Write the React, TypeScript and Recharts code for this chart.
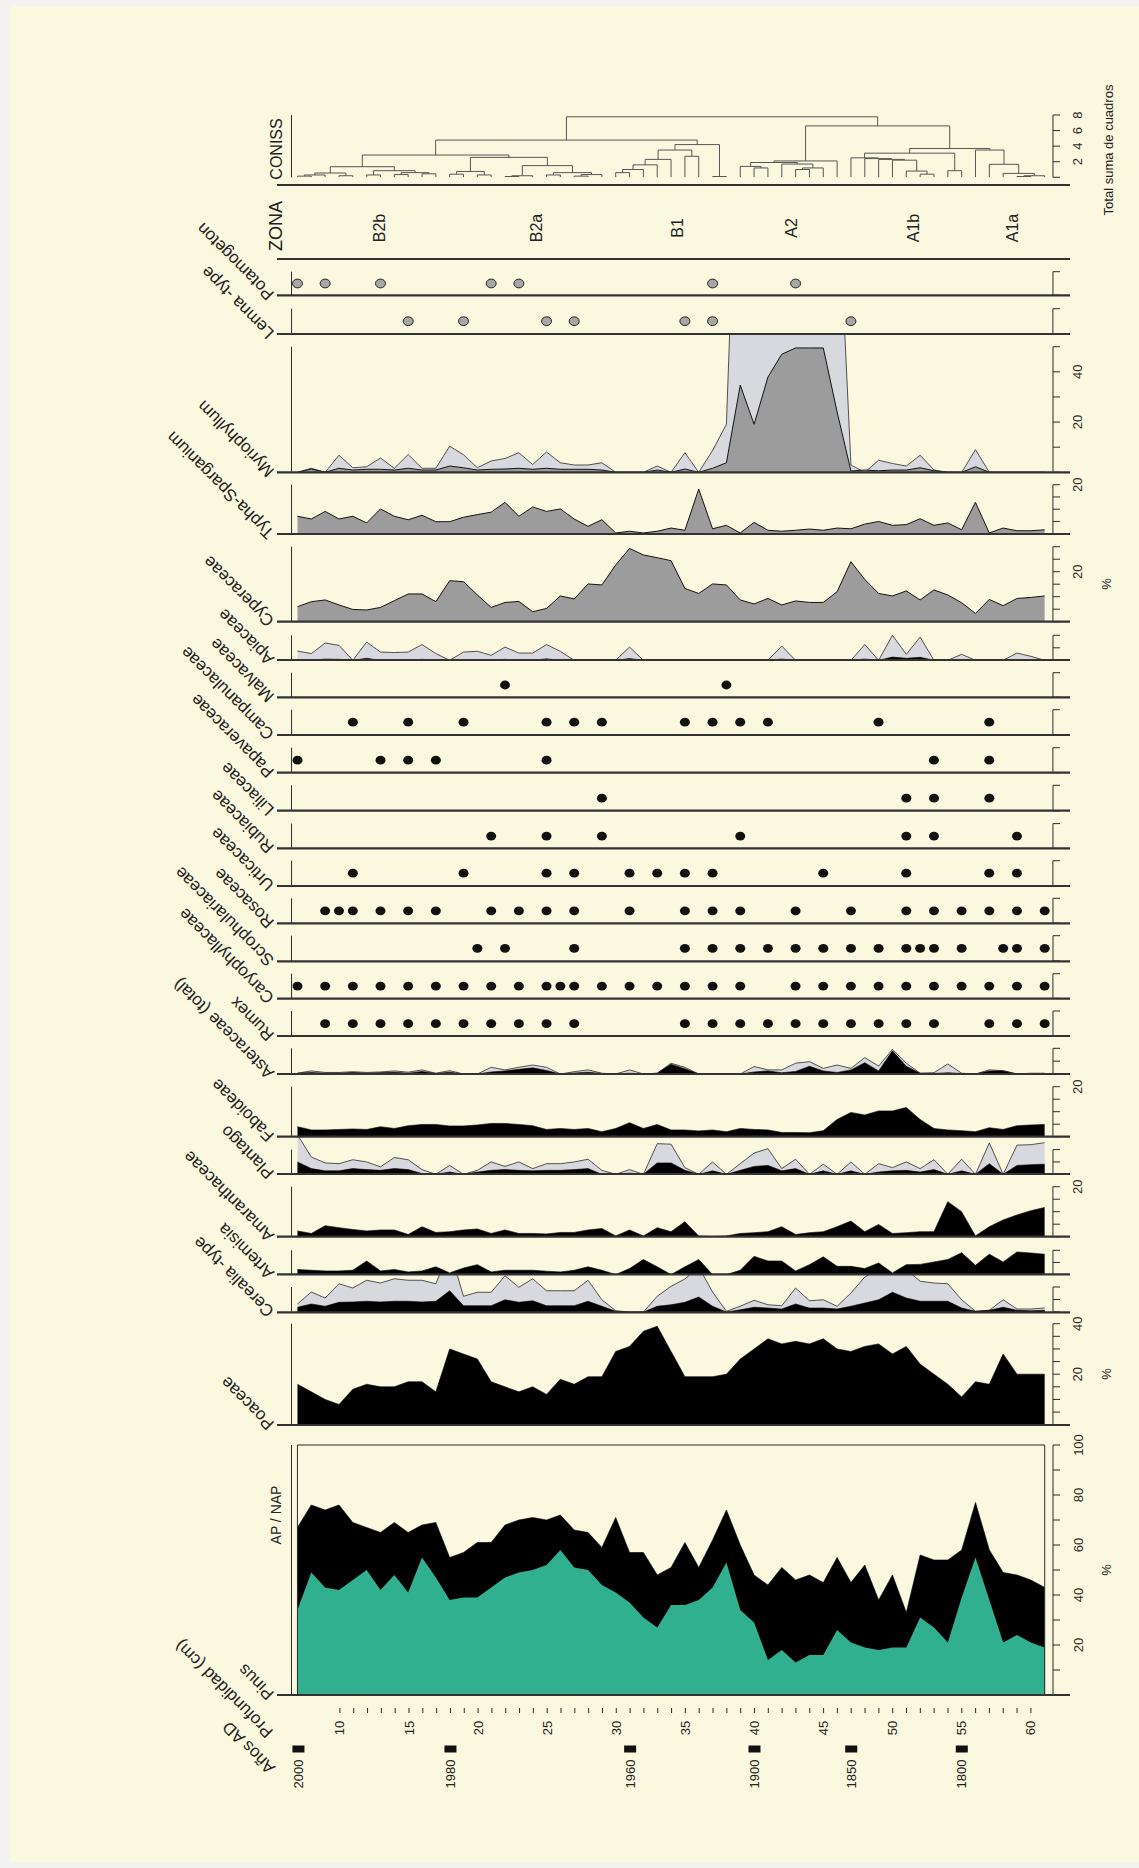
import React from 'react';
import { ComposedChart, Area, Line, Scatter, XAxis, YAxis, ReferenceLine, ReferenceArea } from 'recharts';

// depth of every sample (cm)
const depths = [
  7, 8, 9, 10, 11, 12, 13, 14, 15, 16, 17, 18, 19, 20, 21, 22, 23, 24, 25, 26, 27, 28, 29, 30, 31, 32, 33, 34,
  35, 36, 37, 38, 39, 40, 41, 42, 43, 44, 45, 46, 47, 48, 49, 50, 51, 52, 53, 54, 55, 56, 57, 58, 59, 60, 61,
];

// AP / NAP (%)
const apTotal = [
  67, 76, 74, 76, 69, 67, 65, 69, 65, 68, 69, 55, 57, 61, 61, 68, 70, 71, 70, 72, 66, 65, 59, 71, 57, 57, 48, 51,
  61, 51, 62, 74, 60, 48, 44, 51, 46, 48, 45, 55, 45, 52, 38, 48, 33, 56, 54, 54, 58, 77, 58, 49, 48, 46, 43,
];
const pinus = [
  34, 49, 43, 42, 46, 50, 42, 48, 41, 55, 47, 38, 39, 39, 43, 47, 49, 50, 52, 58, 51, 50, 44, 41, 37, 31, 27, 36,
  36, 38, 43, 53, 34, 29, 14, 18, 13, 16, 16, 26, 21, 19, 18, 19, 19, 31, 27, 21, 39, 55, 38, 21, 24, 21, 19,
];

// herbs (%)
const poaceae = [
  16, 13, 10, 8, 14, 16, 15, 15, 17, 17, 13, 30, 28, 26, 17, 15, 13, 15, 12, 18, 16, 19, 19, 29, 31, 37, 39, 29,
  19, 19, 19, 20, 26, 30, 34, 32, 33, 32, 34, 30, 29, 31, 32, 28, 31, 24, 20, 16, 11, 17, 16, 28, 20, 20, 20,
];
const cerealia = [
  1.9, 3.2, 2.3, 3.9, 4, 4.3, 4, 4.3, 4.3, 4, 4.3, 8.5, 2.5, 2.5, 2.5, 4.9, 3.9, 4.5, 2.5, 2.5, 2.5, 4.3, 2.3, 0.3,
  0, 0, 2.3, 2.9, 3.9, 6, 2.3, 0, 0.9, 1.9, 1.6, 1.2, 3.2, 1.6, 1.6, 1.2, 2.3, 3.6, 4.9, 7.9, 5.6, 4.3, 4.3, 4.3,
  1.6, 0.3, 0.7, 1.9, 0.7, 0.5, 0.7,
];
const cerealiaExag = [
  3.2, 8, 5.6, 11.3, 9.6, 12.7, 11.6, 13.3, 12.7, 12.7, 11.3, 25, 6.3, 7.9, 7.9, 14.5, 9.9, 13.3, 8.5, 8.5, 8.5,
  12.7, 4.9, 0.5, 0, 0, 6.3, 10.3, 13.2, 18, 8, 0.3, 2.3, 4.7, 2.9, 2.5, 9.6, 4.5, 4.9, 2.3, 7.6, 14, 17, 24, 17,
  12.3, 11.6, 11.3, 4.9, 0.3, 0.7, 4.9, 1.2, 1.2, 1.6,
];
const artemisia = [
  2.1, 1.8, 1.5, 1.5, 1.8, 5.6, 1.5, 2.1, 1.1, 1.5, 3.2, 0.7, 2.7, 4.1, 1.1, 1.8, 1.8, 1.8, 1.4, 1.1, 1.8, 3.2, 1.8,
  0, 2.5, 6.2, 3.2, 0, 3.2, 6.2, 0, 0, 1.8, 7.5, 5.6, 5.6, 1.5, 4.1, 7.3, 3.4, 3.4, 2.5, 4.8, 0.7, 4.1, 4.2, 5.2,
  6.2, 9, 3.8, 8.4, 5.2, 9.3, 8.9, 8.4,
];
const amaranthaceae = [
  2.3, 1.3, 4.4, 3.6, 2.9, 2.3, 2.7, 2.7, 0.9, 4, 1.7, 2, 2.7, 3.1, 1.3, 2.7, 1.3, 1.3, 1.1, 1.7, 1.7, 2.7, 3.3, 0.3,
  2.7, 0.3, 3.6, 2, 6, 0.3, 0, 0.3, 1.3, 1.6, 2, 4, 0.9, 1.6, 2, 4, 6.3, 2, 4.9, 1.3, 1.6, 2, 2, 14, 10, 0.3, 4,
  6.7, 8.7, 10.4, 11.7,
];
const plantago = [
  5, 2.3, 1.4, 1.4, 2.3, 1.9, 1.6, 2.3, 1.9, 0.3, 0, 0.9, 0, 0.9, 1.6, 1.9, 1.6, 1.4, 1.6, 1.6, 1.9, 2.3, 0, 0, 0.5,
  0, 4.6, 4.6, 1.6, 0, 1.4, 0, 1.6, 3.2, 3.6, 1.4, 2.3, 0, 1.4, 0, 1.4, 0, 0.9, 1.4, 1.6, 0.9, 1.9, 0, 1.4, 0, 4.3,
  0, 3.6, 3.9, 4.1,
];
const plantagoExag = [
  16, 7, 4.6, 4.3, 5.9, 5, 3, 6.8, 5.9, 1.9, 0, 3.6, 0, 1.6, 5, 3.2, 5, 2.3, 4.3, 4.3, 5, 6.1, 1.6, 0, 1.9, 0, 12.4,
  12.2, 2.7, 0, 5, 0, 4.3, 8.6, 10.4, 2.3, 6.1, 0, 4.1, 0, 5, 0, 4.3, 2.7, 5, 2.3, 5.9, 0, 6.1, 0, 12.7, 0, 11.8, 12,
  12.8,
];
const faboideae = [
  4, 2.7, 2.7, 2.9, 3.1, 2.9, 4, 3.3, 4.4, 4.9, 4.9, 4.3, 4.3, 4.7, 5.3, 5.3, 4.9, 4.4, 2.9, 3.3, 2.9, 3.3, 2, 3.3,
  5.6, 3.3, 4.9, 2.7, 2.7, 2.3, 2.7, 2, 3.3, 2.9, 2.7, 1.7, 1.7, 1.6, 2.4, 6.9, 9.7, 8.7, 10.3, 10.3, 11.7, 6.9, 3.3,
  2.7, 2.4, 2, 3.6, 2.9, 4.4, 4.7, 4.9,
];
const asteraceae = [
  0.3, 0.6, 0.3, 0.3, 0.6, 0.3, 0.5, 0.7, 0.3, 1, 0.2, 0.7, 0, 0, 0.8, 1.2, 1.8, 2.4, 1.4, 0, 0.4, 0.7, 0.2, 0, 0.3,
  0, 0.3, 3.8, 2, 0, 0, 0, 0, 0.8, 1.2, 0.5, 1, 3, 1.2, 0.6, 1.6, 4.4, 1.2, 9, 3, 0.3, 0.2, 0.5, 0.2, 0, 1.2, 1.2, 0,
  0.2, 0.2,
];
const asteraceaeTotal = [
  0.3, 1.2, 0.6, 0.6, 0.9, 0.6, 0.8, 1.2, 0.7, 1.6, 0.3, 1.3, 0, 0, 2.6, 1.6, 2.6, 3.5, 2.6, 0, 0.9, 1.6, 0.3, 0, 1.6,
  0, 0.3, 4.2, 2.6, 0, 0, 0, 0, 2.9, 1.6, 1.6, 4.2, 4.8, 2.2, 3.5, 2.2, 6.4, 3.1, 9.6, 4.2, 0.3, 0.5, 3.9, 0.3, 0,
  1.6, 1.3, 0, 0.3, 0.3,
];
const apiaceae = [
  0, 0, 0.5, 0.4, 0, 0.8, 0, 0, 0, 0.4, 0, 0, 0, 0, 0, 0.4, 0, 0, 0.6, 0, 0, 0, 0, 0, 0.7, 0, 0, 0, 0, 0, 0, 0, 0,
  0, 0, 0.5, 0, 0, 0, 0, 0, 0.5, 0, 1.3, 0.8, 1.2, 0, 0, 0, 0, 0, 0, 0, 0, 0,
];
const apiaceaeTotal = [
  3.7, 2.7, 6.9, 6, 0, 7.3, 3.3, 3.1, 3.3, 6.3, 2.7, 0, 3.3, 3.6, 2, 5.3, 2.9, 2.9, 6.3, 3.6, 0, 0, 0, 0, 5.3, 0, 0,
  0, 0, 0, 0, 0, 0, 0, 0, 5.7, 0, 0, 0, 0, 0, 6.3, 0, 10, 2.4, 9.3, 0, 0, 2.4, 0, 0, 0, 2.9, 1.6, 0,
];

// wetland and aquatic taxa (%)
const cyperaceae = [
  6, 8, 8.7, 6.7, 4.9, 4.7, 5.7, 8.4, 11.1, 11.1, 8, 16.4, 16, 10.7, 5.7, 7.7, 8.1, 4, 5.3, 10.3, 9.1, 15.1, 14.7,
  22.7, 29.3, 26.7, 25.6, 24.4, 13.3, 11.3, 15.1, 14.7, 8.7, 7.1, 9.3, 6.7, 8.3, 7.7, 7.7, 12, 24, 16.9, 11.3, 10.3,
  12.3, 8.7, 12.7, 10.7, 7.6, 3.3, 8.9, 6.4, 9.3, 9.7, 10.3,
];
const typha = [
  7.1, 6, 9.1, 6, 7.1, 4.4, 10.1, 7.1, 5.7, 7.5, 4.9, 4.9, 6.7, 7.8, 8.8, 12.8, 7.1, 10.9, 9.1, 10.1, 6, 3, 5.7, 0.3,
  1, 0.3, 1, 2.3, 1.4, 18.2, 2, 3.4, 0.3, 4.6, 1.4, 1, 1.4, 1.9, 1.4, 2.3, 2, 3.9, 5, 3.4, 3.7, 6.1, 3.4, 4.4, 1.6,
  12.8, 0.3, 2.3, 1.2, 1.2, 1.6,
];
const myriophyllum = [
  0, 1.3, 0, 1.6, 0.9, 1.2, 1.2, 0.9, 1.6, 0.9, 0.9, 2.5, 1.8, 0.9, 1.2, 1.3, 1.6, 1.2, 1.6, 1.2, 1.2, 1.2, 0.9, 0,
  0, 0, 0.9, 0, 1.3, 0, 1.6, 3.8, 34.7, 19.1, 37.9, 47, 49.5, 49.5, 49.5, 24, 0.5, 0.9, 0.6, 0.9, 0.9, 1.8, 0.6, 0,
  0, 2.2, 0, 0, 0, 0, 0,
];
const myriophyllumExag = [
  0, 1.6, 0, 6.8, 1.8, 2.2, 5.7, 1.6, 7.1, 1.6, 1.6, 10.4, 7, 1.8, 4.5, 5.5, 7.8, 3.1, 8.1, 3.8, 2.9, 2.9, 3.8, 0, 0,
  0, 2.5, 0, 7.8, 0, 8.7, 19.1, 174, 96, 190, 235, 248, 248, 248, 120, 2.9, 0, 4.8, 3.5, 2.5, 6.8, 0.9, 0, 0, 9, 0,
  0, 0, 0, 0,
];

// presence only (sample depths)
const potamogeton = [7, 9, 13, 21, 23, 37, 43];
const lemna = [15, 19, 25, 27, 35, 37, 47];
const malvaceae = [22, 38];
const campanulaceae = [11, 15, 19, 25, 27, 29, 35, 37, 39, 41, 49, 57];
const papaveraceae = [7, 13, 15, 17, 25, 53, 57];
const liliaceae = [29, 51, 53, 57];
const rubiaceae = [21, 25, 29, 39, 51, 53, 59];
const urticaceae = [11, 19, 25, 27, 31, 33, 35, 37, 45, 51, 57, 59];
const rosaceae = [9, 10, 11, 13, 15, 17, 21, 23, 25, 27, 31, 35, 37, 39, 43, 47, 51, 53, 55, 57, 59, 61];
const scrophulariaceae = [20, 22, 27, 35, 37, 39, 41, 43, 45, 47, 49, 51, 52, 53, 55, 58, 59, 61];
const caryophyllaceae = [7, 9, 11, 13, 15, 17, 19, 21, 23, 25, 26, 27, 29, 31, 33, 35, 37, 39, 43, 45, 47, 49, 51, 53, 55, 57, 59, 61];
const rumex = [9, 11, 13, 15, 17, 19, 21, 23, 25, 27, 35, 37, 39, 41, 43, 45, 47, 49, 51, 53, 57, 59, 61];

// CONISS clusters: [left, right, total sum of squares]; leaves are sample depths
const conissTree = [
  [
    [
      [[[[7, 8, 0.15], 9, 0.3], [10, 11, 0.2], 0.55], [[12, 13, 0.3], [[14, 15, 0.35], [16, 17, 0.45], 0.6], 0.85], 1.36],
      [[[18, 19, 0.4], [20, 21, 0.3], 0.75], [[[22, 23, 0.1], 24, 0.2], [[25, 26, 0.3], [[27, 28, 0.15], 29, 0.35], 0.6], 1.5], 2.56],
      2.86,
    ],
    [[[[[[30, 31, 0.6], 32, 1.0], 33, 1.6], 34, 2.3], [35, 36, 2.7], 3.5], [37, 38, 0.1], 4.2],
    4.78,
  ],
  [
    [[[39, [40, 41, 1.2], 1.4], [42, [[43, 44, 1.0], 45, 1.2], 1.7], 1.9], 46, 2.1],
    [
      [[47, [48, [49, [50, [51, [52, 53, 0.4], 0.8], 2.2], 2.3], 2.4], 2.5], [54, 55, 0.85], 3.1],
      [56, [57, [58, [[59, 60, 0.1], 61, 0.2], 0.5], 1.67], 3.5],
      3.7,
    ],
    6.6,
  ],
  7.77,
];

// zones
const zoneBounds = [17.5, 29.5, 38.5, 46.5, 55.5];
const zoneNames = ['B2b', 'B2a', 'B1', 'A2', 'A1b', 'A1a'];
const zoneLabelDepths = [12.9, 24.2, 34.4, 42.7, 51.5, 58.7];

// depth axis and dated levels
const depthTicks = [
  10, 11, 12, 13, 14, 15, 16, 17, 18, 19, 20, 21, 22, 23, 24, 25, 26, 27, 28, 29, 30, 31, 32, 33, 34, 35, 36, 37, 38,
  39, 40, 41, 42, 43, 44, 45, 46, 47, 48, 49, 50, 51, 52, 53, 54, 55, 56, 57, 58, 59, 60,
];
const yearDepths = [7, 18, 31, 40, 47, 55];
const yearLabels = ['2000', '1980', '1960', '1900', '1850', '1800'];

// ---- layout ----
const W = 1139;
const H = 1868;
const PLOT_L = 292.5;
const PLOT_R = 1053;
const X_DOMAIN = [6.57, 61.6];
const FONT = '"Liberation Sans", Arial, Helvetica, sans-serif';
const INK = '#2b2b2b';
const RULE = '#333333';
const LIGHT = '#d7d9de';
const MID = '#9c9c9c';
const TEAL = '#31b08f';
const CREAM = '#fbf8e0';
// axes get 1px of room each so that they are drawn
const MARGIN_X = { left: PLOT_L - 1, right: W - PLOT_R - 1 };
// room above each panel for the top tick label
const PAD = 12;

const rows = (vals, exag?) => depths.map((depth, i) => ({ depth, v: vals[i], e: exag ? exag[i] : undefined }));
const dotRows = (list) => list.map((depth) => ({ depth, y: 0.5 }));

const range = (max, step) => {
  const out = [];
  for (let v = 0; v <= max + 1e-9; v += step) out.push(v);
  return out;
};

function buildDendrogram(node, segs) {
  if (typeof node === 'number') return { x: node, h: 0 };
  const [l, r, h] = node;
  const a = buildDendrogram(l, segs);
  const b = buildDendrogram(r, segs);
  segs.push([
    { depth: a.x, h: a.h },
    { depth: a.x, h },
    { depth: b.x, h },
    { depth: b.x, h: b.h },
  ]);
  return { x: (a.x + b.x) / 2, h };
}
const conissSegments = [];
buildDendrogram(conissTree, conissSegments);

type PanelProps = {
  clipTop: number;
  top: number;
  base: number;
  max: number;
  ticksL: number[];
  ticksR: number[];
  labels?: number[];
  leftTick?: number;
  data?: any[];
  children?: React.ReactNode;
};

function Panel({ clipTop, top, base, max, ticksL, ticksR, labels = [], leftTick = 5, data, children }: PanelProps) {
  const h = base - clipTop;
  const yMax = (max * h) / (base - top);
  const rightTick = (p) => {
    const v = p.payload.value;
    if (!labels.includes(v)) return <g />;
    const x = p.x + 16;
    return (
      <text
        x={x}
        y={p.y}
        transform={`rotate(-90 ${x} ${p.y})`}
        textAnchor="middle"
        dominantBaseline="central"
        fontSize={13}
        fontFamily={FONT}
        fill={INK}
      >
        {v}
      </text>
    );
  };
  return (
    <div style={{ position: 'absolute', left: 0, top: clipTop - PAD }}>
      <ComposedChart width={W} height={h + 1 + PAD} data={data} margin={{ top: PAD, bottom: 1, ...MARGIN_X }}>
        <XAxis dataKey="depth" type="number" domain={X_DOMAIN} hide allowDataOverflow />
        <YAxis
          yAxisId="l"
          width={1}
          mirror
          type="number"
          domain={[0, yMax]}
          ticks={ticksL}
          interval={0}
          allowDataOverflow
          axisLine={false}
          tick={false}
          tickSize={leftTick}
          stroke={INK}
        />
        <YAxis
          yAxisId="r"
          orientation="right"
          width={1}
          type="number"
          domain={[0, yMax]}
          ticks={ticksR}
          interval={0}
          allowDataOverflow
          axisLine={false}
          tick={rightTick}
          tickSize={7}
          stroke={INK}
        />
        {children}
        <ReferenceLine
          yAxisId="r"
          segment={[{ x: X_DOMAIN[0], y: 0 }, { x: X_DOMAIN[0], y: max }]}
          stroke={INK}
          ifOverflow="visible"
        />
        <ReferenceLine
          yAxisId="r"
          segment={[{ x: X_DOMAIN[1], y: 0 }, { x: X_DOMAIN[1], y: max }]}
          stroke={INK}
          ifOverflow="visible"
        />
      </ComposedChart>
    </div>
  );
}

const dotShape = (fill) => (p) => (
  <ellipse cx={p.cx} cy={p.cy} rx={5} ry={4.4} fill={fill} stroke="#111" strokeWidth={fill === '#111' ? 0 : 0.9} />
);

// presence panels, top to bottom
const dotPanels = [
  { name: 'Potamogeton', list: potamogeton, clipTop: 259, top: 271.7, base: 295.3, fill: '#a6a6a6' },
  { name: 'Lemna -type', list: lemna, clipTop: 295.3, top: 309, base: 334, fill: '#a6a6a6' },
  { name: 'Malvaceae', list: malvaceae, clipTop: 660, top: 672.7, base: 697.3, fill: '#111' },
  { name: 'Campanulaceae', list: campanulaceae, clipTop: 697.3, top: 710, base: 735, fill: '#111' },
  { name: 'Papaveraceae', list: papaveraceae, clipTop: 735, top: 747.7, base: 772.7, fill: '#111' },
  { name: 'Liliaceae', list: liliaceae, clipTop: 772.7, top: 785, base: 810.7, fill: '#111' },
  { name: 'Rubiaceae', list: rubiaceae, clipTop: 810.7, top: 823.3, base: 848.3, fill: '#111' },
  { name: 'Urticaceae', list: urticaceae, clipTop: 848.3, top: 861, base: 886, fill: '#111' },
  { name: 'Rosaceae', list: rosaceae, clipTop: 886, top: 898.3, base: 923.3, fill: '#111' },
  { name: 'Scrophulariaceae', list: scrophulariaceae, clipTop: 923.3, top: 936, base: 961.3, fill: '#111' },
  { name: 'Caryophyllaceae', list: caryophyllaceae, clipTop: 961.3, top: 974, base: 998.7, fill: '#111' },
  { name: 'Rumex', list: rumex, clipTop: 998.7, top: 1010.7, base: 1036, fill: '#111' },
];

const curveLabels = [
  { name: 'Myriophyllum', base: 472.3 },
  { name: 'Typha-Sparganium', base: 534 },
  { name: 'Cyperaceae', base: 621.7 },
  { name: 'Apiaceae', base: 660 },
  { name: 'Asteraceae (total)', base: 1074 },
  { name: 'Faboideae', base: 1136.7 },
  { name: 'Plantago', base: 1174 },
  { name: 'Amaranthaceae', base: 1236.7 },
  { name: 'Artemisia', base: 1274.3 },
  { name: 'Cerealia -type', base: 1312.3 },
  { name: 'Poaceae', base: 1425 },
  { name: 'Pinus', base: 1695 },
];

const greyArea = (key) => (
  <Area yAxisId="r" dataKey={key} type="linear" stroke="#2a2a2a" strokeWidth={0.8} fill={LIGHT} fillOpacity={1} isAnimationActive={false} />
);
const blackArea = (key) => (
  <Area yAxisId="r" dataKey={key} type="linear" stroke="#000" strokeWidth={0.6} fill="#000" fillOpacity={1} isAnimationActive={false} />
);
const midArea = (key) => (
  <Area yAxisId="r" dataKey={key} type="linear" stroke="#111" strokeWidth={1} fill={MID} fillOpacity={1} isAnimationActive={false} />
);

const zoneDash = ['1.5 2.5', '8 4', undefined, '8 4', '1.5 2.5'];

const rotText = (x, y, text, size, angle = -90, anchor = 'middle') => (
  <text
    key={`${text}-${x}-${y}`}
    x={x}
    y={y}
    transform={`rotate(${angle} ${x} ${y})`}
    textAnchor={anchor}
    dominantBaseline={anchor === 'middle' ? 'central' : 'auto'}
    fontSize={size}
    fontFamily={FONT}
    fill="#222"
  >
    {text}
  </text>
);

export default function App() {
  const rules = [185, 259, ...dotPanels.map((p) => p.base), ...curveLabels.map((c) => c.base)];
  const taxonLabels = [...dotPanels.map((p) => ({ name: p.name, base: p.base })), ...curveLabels];

  const depthTick = (p) => {
    const v = p.payload.value;
    if (v % 5 !== 0) return <g />;
    const y = p.y + 13;
    return (
      <text x={p.x} y={y} transform={`rotate(-90 ${p.x} ${y})`} textAnchor="middle" dominantBaseline="central" fontSize={13} fontFamily={FONT} fill="#222">
        {v}
      </text>
    );
  };

  const yearShape = (p) => (
    <g>
      <rect x={p.cx - 6} y={p.cy - 3.5} width={12} height={7} fill="#111" />
      <text
        x={p.cx}
        y={p.cy + 25}
        transform={`rotate(-90 ${p.cx} ${p.cy + 25})`}
        textAnchor="middle"
        dominantBaseline="central"
        fontSize={13}
        fontFamily={FONT}
        fill="#222"
      >
        {p.payload.label}
      </text>
    </g>
  );

  const zoneShape = (p) => (
    <text
      x={p.cx}
      y={p.cy + 5.5}
      transform={`rotate(-90 ${p.cx} ${p.cy + 5.5})`}
      textAnchor="middle"
      dominantBaseline="central"
      fontSize={16}
      fontFamily={FONT}
      fill="#222"
    >
      {p.payload.label}
    </text>
  );

  return (
    <div style={{ position: 'absolute', left: 0, top: 0, width: W, height: H, background: '#f2f2f0', fontFamily: FONT }}>
      <div style={{ position: 'absolute', left: 10, top: 6, width: W - 10, height: 1856, background: CREAM }} />

      {/* zone boundaries */}
      <div style={{ position: 'absolute', left: 0, top: 186 }}>
        <ComposedChart
          width={W}
          height={1445 - 186}
          data={zoneBounds.map((depth) => ({ depth, y: 0 }))}
          margin={{ top: 0, right: W - PLOT_R, bottom: 0, left: PLOT_L }}
        >
          <XAxis dataKey="depth" type="number" domain={X_DOMAIN} hide />
          <YAxis type="number" domain={[0, 1]} hide />
          {zoneBounds.map((d, i) => (
            <ReferenceLine key={d} x={d} stroke={i === 2 ? '#555' : '#6f6f6f'} strokeWidth={1} strokeDasharray={zoneDash[i]} />
          ))}
        </ComposedChart>
      </div>

      {/* zone names */}
      <div style={{ position: 'absolute', left: 0, top: 186 }}>
        <ComposedChart width={W} height={73} margin={{ top: 0, right: W - PLOT_R, bottom: 0, left: PLOT_L }}>
          <XAxis dataKey="depth" type="number" domain={X_DOMAIN} hide />
          <YAxis type="number" domain={[0, 1]} hide />
          <Scatter
            data={zoneLabelDepths.map((depth, i) => ({ depth, y: 0.5, label: zoneNames[i] }))}
            dataKey="y"
            shape={zoneShape}
            isAnimationActive={false}
          />
        </ComposedChart>
      </div>

      {/* CONISS */}
      <Panel clipTop={115} top={115} base={177.3} max={8} ticksL={range(8, 2)} ticksR={range(8, 2)} labels={[2, 4, 6, 8]} leftTick={4}>
        {conissSegments.map((seg, i) => (
          <Line
            key={i}
            yAxisId="r"
            data={seg}
            dataKey="h"
            type="linear"
            stroke="#555"
            strokeWidth={1}
            dot={false}
            activeDot={false}
            isAnimationActive={false}
          />
        ))}
      </Panel>

      {/* presence panels */}
      {dotPanels.map((p) => (
        <Panel key={p.name} clipTop={p.clipTop} top={p.top} base={p.base} max={1} ticksL={[0, 1]} ticksR={[0, 1]}>
          <Scatter yAxisId="r" data={dotRows(p.list)} dataKey="y" shape={dotShape(p.fill)} isAnimationActive={false} />
        </Panel>
      ))}

      <Panel clipTop={334} top={346.7} base={472.3} max={50} ticksL={range(50, 5)} ticksR={range(50, 10)} labels={[20, 40]} data={rows(myriophyllum, myriophyllumExag)}>
        {greyArea('e')}
        {midArea('v')}
      </Panel>
      <Panel clipTop={472.3} top={485} base={534} max={20} ticksL={range(20, 5)} ticksR={range(20, 5)} labels={[20]} data={rows(typha)}>
        {midArea('v')}
      </Panel>
      <Panel clipTop={534} top={546.7} base={621.7} max={30} ticksL={range(30, 5)} ticksR={range(30, 5)} labels={[20]} data={rows(cyperaceae)}>
        {midArea('v')}
      </Panel>
      <Panel clipTop={621.7} top={635} base={660} max={10} ticksL={range(10, 5)} ticksR={range(10, 5)} data={rows(apiaceae, apiaceaeTotal)}>
        {greyArea('e')}
        {blackArea('v')}
      </Panel>
      <Panel clipTop={1036} top={1048.3} base={1074} max={10} ticksL={range(10, 5)} ticksR={range(10, 5)} data={rows(asteraceae, asteraceaeTotal)}>
        {greyArea('e')}
        {blackArea('v')}
      </Panel>
      <Panel clipTop={1074} top={1086.7} base={1136.7} max={20} ticksL={range(20, 5)} ticksR={range(20, 5)} labels={[20]} data={rows(faboideae)}>
        {blackArea('v')}
      </Panel>
      <Panel clipTop={1136.7} top={1149.3} base={1174} max={10} ticksL={range(10, 5)} ticksR={range(10, 5)} data={rows(plantago, plantagoExag)}>
        {greyArea('e')}
        {blackArea('v')}
      </Panel>
      <Panel clipTop={1174} top={1186.7} base={1236.7} max={20} ticksL={range(20, 5)} ticksR={range(20, 5)} labels={[20]} data={rows(amaranthaceae)}>
        {blackArea('v')}
      </Panel>
      <Panel clipTop={1236.7} top={1250} base={1274.3} max={10} ticksL={range(10, 5)} ticksR={range(10, 5)} data={rows(artemisia)}>
        {blackArea('v')}
      </Panel>
      <Panel clipTop={1274.3} top={1287.3} base={1312.3} max={10} ticksL={range(10, 5)} ticksR={range(10, 5)} data={rows(cerealia, cerealiaExag)}>
        {greyArea('e')}
        {blackArea('v')}
      </Panel>
      <Panel clipTop={1312.3} top={1324} base={1425} max={40} ticksL={range(40, 5)} ticksR={range(40, 5)} labels={[20, 40]} data={rows(poaceae)}>
        {blackArea('v')}
      </Panel>

      {/* AP / NAP with Pinus */}
      <Panel clipTop={1445} top={1445} base={1695} max={100} ticksL={range(100, 10)} ticksR={range(100, 10)} labels={[20, 40, 60, 80, 100]} leftTick={7} data={rows(apTotal, pinus)}>
        <Area yAxisId="r" dataKey="v" type="linear" stroke="#000" strokeWidth={0.6} fill="#000" fillOpacity={1} isAnimationActive={false} />
        <Area yAxisId="r" dataKey="e" type="linear" stroke="none" fill={TEAL} fillOpacity={1} isAnimationActive={false} />
        <ReferenceArea yAxisId="r" x1={7} x2={61} y1={0} y2={100} fill="none" stroke={INK} strokeWidth={1} ifOverflow="visible" />
      </Panel>

      {/* depth axis */}
      <div style={{ position: 'absolute', left: 0, top: 1690 }}>
        <ComposedChart
          width={W}
          height={70}
          data={depthTicks.map((depth) => ({ depth }))}
          margin={{ top: 0, right: W - PLOT_R, bottom: 51, left: PLOT_L }}
        >
          <XAxis
            dataKey="depth"
            type="number"
            domain={X_DOMAIN}
            ticks={depthTicks}
            interval={0}
            height={1}
            axisLine={false}
            tickSize={5}
            stroke={INK}
            tick={depthTick}
          />
          <YAxis type="number" domain={[0, 1]} hide />
          <ReferenceLine
            segment={[{ x: depthTicks[0], y: 0 }, { x: depthTicks[depthTicks.length - 1], y: 0 }]}
            stroke={INK}
            ifOverflow="visible"
          />
        </ComposedChart>
      </div>

      {/* dated levels */}
      <div style={{ position: 'absolute', left: 0, top: 1739 }}>
        <ComposedChart width={W} height={60} margin={{ top: 0, right: W - PLOT_R, bottom: 40, left: PLOT_L }}>
          <XAxis dataKey="depth" type="number" domain={X_DOMAIN} hide />
          <YAxis type="number" domain={[0, 1]} hide />
          <Scatter
            data={yearDepths.map((depth, i) => ({ depth, y: 0.5, label: yearLabels[i] }))}
            dataKey="y"
            shape={yearShape}
            isAnimationActive={false}
          />
        </ComposedChart>
      </div>

      {/* rules and labels */}
      <svg width={W} height={H} style={{ position: 'absolute', left: 0, top: 0, pointerEvents: 'none' }}>
        {rules.map((y) => (
          <line key={y} x1={277} x2={1070} y1={y} y2={y} stroke={RULE} strokeWidth={2.2} />
        ))}
        {taxonLabels.map((t) => rotText(275, t.base - 2, t.name, 17, -135, 'start'))}
        {rotText(274, 1731, 'Profundidad (cm)', 17, -135, 'start')}
        {rotText(276, 1767, 'Años AD', 17, -135, 'start')}
        {rotText(276, 149, 'CONISS', 16)}
        {rotText(276, 226, 'ZONA', 18)}
        {rotText(276, 1515, 'AP / NAP', 14)}
        {rotText(1108, 150, 'Total suma de cuadros', 13)}
        {rotText(1106, 584, '%', 13)}
        {rotText(1106, 1374, '%', 13)}
        {rotText(1106, 1570, '%', 13)}
      </svg>
    </div>
  );
}
